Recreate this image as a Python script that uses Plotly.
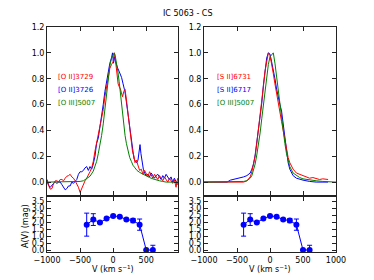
import plotly.graph_objects as go

# ---------------- data ----------------
# Left panel: [O II]3729 (red), [O II]3726 (blue), [O III]5007 (green)
oii3729_v = [-1000, -975, -950, -925, -900, -875, -850, -825, -800, -775, -750, -725, -700, -675, -650, -625, -600,
             -575, -550, -525, -500, -475, -450, -425, -400, -375, -350, -325, -300, -275, -250, -225, -200, -175,
             -150, -125, -100, -75, -50, -25, 0, 10, 20, 40, 60, 75, 90, 110, 125, 142, 160, 178, 195, 218, 238,
             254, 275, 294, 315, 330, 350, 375, 400, 425, 450, 475, 500, 525, 550, 575, 600, 625, 650, 675, 700,
             725, 750, 775, 800, 825, 850, 875, 900, 925, 950, 975]
oii3729_f = [0.0, -0.03, -0.055, -0.05, -0.01, 0.01, 0.01, 0.0, 0.02, 0.02, 0.01, 0.03, 0.045, 0.05, 0.06, 0.04, 0.03,
             0.01, -0.01, -0.04, -0.08, -0.05, -0.01, 0.01, 0.03, 0.05, 0.08, 0.11, 0.16, 0.24, 0.30, 0.36, 0.42, 0.50,
             0.56, 0.66, 0.74, 0.82, 0.88, 0.91, 0.93, 0.97, 1.0, 0.92, 0.82, 0.76, 0.74, 0.72, 0.69, 0.66, 0.70, 0.72,
             0.66, 0.55, 0.47, 0.39, 0.30, 0.23, 0.20, 0.15, 0.17, 0.12, 0.09, 0.10, 0.06, 0.09, 0.07, 0.04, 0.08, 0.05,
             0.03, 0.06, 0.04, 0.02, 0.05, 0.03, 0.01, 0.04, 0.02, 0.0, 0.03, 0.01, -0.01, 0.02, -0.04, 0.03]

oii3726_v = [-1000, -985, -970, -950, -925, -900, -875, -850, -825, -800, -775, -750, -725, -700, -675, -650, -625,
             -600, -575, -550, -525, -500, -475, -450, -425, -400, -375, -350, -325, -300, -275, -250, -225, -200,
             -175, -150, -125, -100, -75, -50, -25, -10, 5, 20, 35, 50, 70, 87, 105, 127, 150, 178, 200, 218, 238,
             254, 275, 294, 315, 335, 355, 375, 395, 406, 420, 440, 456, 475, 500, 525, 550, 575, 600, 625, 650, 675,
             700, 725, 750, 775, 800, 825, 850, 875, 900, 925, 950, 975]
oii3726_f = [0.02, 0.0, -0.03, -0.04, -0.02, -0.01, 0.0, -0.01, 0.0, 0.0, -0.02, -0.04, -0.06, -0.05, -0.03, -0.03, 0.0,
             -0.01, 0.01, 0.02, 0.06, 0.08, 0.08, 0.09, 0.11, 0.12, 0.09, 0.12, 0.10, 0.14, 0.20, 0.30, 0.34, 0.42,
             0.52, 0.60, 0.70, 0.78, 0.85, 0.92, 0.96, 1.0, 0.92, 0.97, 0.93, 0.90, 0.88, 0.86, 0.84, 0.81, 0.76, 0.70,
             0.62, 0.55, 0.47, 0.39, 0.30, 0.23, 0.18, 0.16, 0.15, 0.17, 0.25, 0.29, 0.22, 0.13, 0.10, 0.07, 0.05,
             0.06, 0.04, 0.07, 0.05, 0.03, 0.05, 0.06, 0.04, 0.02, 0.05, 0.03, 0.06, 0.04, 0.02, 0.04, 0.0, 0.03,
             0.01, -0.02]

oiii_left_v = [-1000, -550, -500, -450, -400, -350, -300, -275, -250, -225, -200, -175, -150, -125, -100, -75, -50,
               -25, 0, 15, 30, 50, 70, 90, 110, 125, 140, 160, 180, 200, 225, 250, 275, 300, 330, 360, 400, 456, 500,
               550, 600, 650, 700, 750, 800, 980]
oiii_left_f = [0.0, 0.0, 0.005, 0.01, 0.025, 0.045, 0.085, 0.12, 0.16, 0.22, 0.28, 0.36, 0.45, 0.56, 0.68, 0.81, 0.90,
               0.96, 0.99, 1.0, 0.98, 0.93, 0.86, 0.78, 0.68, 0.60, 0.53, 0.44, 0.36, 0.30, 0.24, 0.19, 0.16, 0.13,
               0.11, 0.09, 0.075, 0.06, 0.045, 0.035, 0.025, 0.015, 0.01, 0.005, 0.0, 0.0]

# Right panel: [S II]6731 (red), [S II]6717 (blue), [O III]5007 (green)
sii6731_v = [-1000, -400, -350, -300, -275, -250, -225, -200, -175, -150, -125, -100, -75, -50, -25, 0, 25, 50, 75,
             100, 125, 150, 175, 200, 225, 250, 275, 300, 325, 350, 400, 450, 500, 550, 600, 650, 700, 750, 800, 850,
             880]
sii6731_f = [0.0, 0.0, 0.01, 0.04, 0.08, 0.13, 0.20, 0.30, 0.40, 0.50, 0.60, 0.74, 0.86, 0.95, 1.0, 0.98, 0.92, 0.84,
             0.76, 0.68, 0.61, 0.55, 0.47, 0.40, 0.33, 0.25, 0.19, 0.15, 0.12, 0.10, 0.07, 0.06, 0.05, 0.04, 0.03,
             0.035, 0.03, 0.02, 0.025, 0.02, 0.02]

sii6717_v = [-1000, -650, -600, -550, -500, -450, -400, -350, -300, -275, -250, -225, -200, -175, -150, -125, -100,
             -75, -50, -25, 0, 25, 50, 75, 100, 125, 150, 175, 200, 225, 250, 275, 300, 325, 350, 400, 450, 500, 600,
             700, 880]
sii6717_f = [0.0, 0.0, 0.015, 0.02, 0.03, 0.035, 0.04, 0.05, 0.07, 0.10, 0.14, 0.21, 0.30, 0.40, 0.50, 0.61, 0.75,
             0.87, 0.96, 1.0, 0.99, 0.93, 0.87, 0.80, 0.72, 0.65, 0.60, 0.55, 0.45, 0.32, 0.22, 0.15, 0.10, 0.07,
             0.05, 0.03, 0.02, 0.015, 0.005, 0.0, 0.0]

oiii_right_v = [-1000, -450, -400, -350, -300, -275, -250, -225, -200, -175, -150, -125, -100, -75, -50, -25, 0, 25,
                50, 75, 100, 125, 150, 175, 200, 225, 250, 275, 300, 350, 400, 450, 500, 600, 700, 800, 900, 1000]
oiii_right_f = [0.0, 0.0, 0.005, 0.01, 0.03, 0.05, 0.09, 0.14, 0.21, 0.29, 0.38, 0.49, 0.60, 0.72, 0.82, 0.91, 0.97,
                0.99, 1.0, 0.92, 0.81, 0.70, 0.60, 0.50, 0.40, 0.30, 0.22, 0.16, 0.12, 0.07, 0.05, 0.035, 0.025,
                0.015, 0.01, 0.005, 0.0, 0.0]

# Extinction A(V)
av_v = [-400, -300, -200, -100, 0, 100, 200, 300, 400, 500, 600]
av_val = [1.83, 2.19, 1.98, 2.26, 2.45, 2.40, 2.19, 2.12, 1.83, 0.02, 0.02]
av_err = [0.82, 0.42, 0.05, 0.07, 0.05, 0.05, 0.08, 0.15, 0.40, 0.03, 0.34]

left_labels = ["[O II]3729", "[O II]3726", "[O III]5007"]
right_labels = ["[S II]6731", "[S II]6717", "[O III]5007"]
label_y = [0.81, 0.715, 0.615]

title = "IC 5063 - CS"
xlab = "V (km s<sup>−1</sup>)"
ylab = "A(V) (mag)"

RED, BLUE, GREEN = "#ff0000", "#0000ff", "#008000"
FONT = "DejaVu Sans"

# ---------------- figure ----------------
fig = go.Figure()

def line(x, y, c, xa, ya):
    fig.add_trace(go.Scatter(x=x, y=y, mode="lines", line=dict(color=c, width=1),
                             xaxis=xa, yaxis=ya, showlegend=False, hoverinfo="skip"))

line(oii3726_v, oii3726_f, BLUE, "x", "y")
line(oii3729_v, oii3729_f, RED, "x", "y")
line(oiii_left_v, oiii_left_f, GREEN, "x", "y")
line(sii6717_v, sii6717_f, BLUE, "x3", "y3")
line(sii6731_v, sii6731_f, RED, "x3", "y3")
line(oiii_right_v, oiii_right_f, GREEN, "x3", "y3")

for xa, ya in (("x2", "y2"), ("x4", "y4")):
    fig.add_trace(go.Scatter(x=av_v, y=av_val, mode="lines+markers",
                             line=dict(color=BLUE, width=1),
                             marker=dict(color=BLUE, size=6),
                             error_y=dict(type="data", array=av_err, color=BLUE, thickness=1, width=2.5),
                             xaxis=xa, yaxis=ya, showlegend=False, hoverinfo="skip", cliponaxis=False))

for txt, c, yy in zip(left_labels, [RED, BLUE, GREEN], label_y):
    fig.add_annotation(x=-860, y=yy, xref="x", yref="y", text=txt, showarrow=False,
                       xanchor="left", yanchor="middle", font=dict(color=c, size=7, family=FONT))
for txt, c, yy in zip(right_labels, [RED, BLUE, GREEN], label_y):
    fig.add_annotation(x=-835, y=yy, xref="x3", yref="y3", text=txt, showarrow=False,
                       xanchor="left", yanchor="middle", font=dict(color=c, size=7, family=FONT))

# page body adds an 8px offset; lay out in figure pixels = window pixels - 8
OFF = 8
W, H = 374 - OFF, 280 - OFF
def px(v):
    return v - OFF

L0, L1, R0, R1 = px(47), px(178), px(204), px(336)
T0, T1, B0, B1 = px(27), px(195), px(197), px(252)
ML, MR, MT, MB = L0, W - R1, T0, H - B1
PW, PH = W - ML - MR, H - MT - MB

def pxx(x):
    return (x - ML) / PW

def pxy(y):
    return (H - MB - y) / PH

xl = [0, pxx(L1)]
xr = [pxx(R0), 1]
ytop = [pxy(T1), 1]
ybot = [0, pxy(B0)]

tfont = dict(size=8, family=FONT, color="#000")
ax_common = dict(showline=True, linecolor="#222", linewidth=1, mirror="ticks", ticks="inside",
                 ticklen=4, tickcolor="#222", showgrid=False, zeroline=False, automargin=False,
                 tickfont=tfont)

xticks = [-1000, -500, 0, 500, 1000]
fig.update_layout(
    width=W, height=H, margin=dict(l=ML, r=MR, t=MT, b=MB, autoexpand=False),
    paper_bgcolor="white", plot_bgcolor="white",
    xaxis=dict(domain=xl, range=[-1000, 980], anchor="y", tickvals=xticks, showticklabels=False, **ax_common),
    yaxis=dict(domain=ytop, range=[-0.1, 1.2], anchor="x", tickvals=[0, 0.2, 0.4, 0.6, 0.8, 1.0, 1.2],
               tickformat=".1f", **ax_common),
    xaxis2=dict(domain=xl, range=[-1000, 980], anchor="y2", tickvals=xticks, **ax_common),
    yaxis2=dict(domain=ybot, range=[-0.12, 3.8], anchor="x2", tickvals=[0, 0.5, 1, 1.5, 2, 2.5, 3, 3.5],
                tickformat=".1f", **ax_common),
    xaxis3=dict(domain=xr, range=[-1000, 1000], anchor="y3", tickvals=xticks, showticklabels=False, **ax_common),
    yaxis3=dict(domain=ytop, range=[-0.1, 1.2], anchor="x3", tickvals=[0, 0.2, 0.4, 0.6, 0.8, 1.0, 1.2],
                tickformat=".1f", **ax_common),
    xaxis4=dict(domain=xr, range=[-1000, 1000], anchor="y4", tickvals=xticks, **ax_common),
    yaxis4=dict(domain=ybot, range=[-0.12, 3.8], anchor="x4", tickvals=[0, 0.5, 1, 1.5, 2, 2.5, 3, 3.5],
                tickformat=".1f", **ax_common),
)

# title and axis titles as positioned text
fig.add_annotation(x=pxx(px(187)), y=pxy(0), xref="paper", yref="paper", text=title, showarrow=False,
                   xanchor="center", yanchor="top", borderpad=0, font=tfont)
fig.add_annotation(x=0, y=pxy(px(269)), xref="x2", yref="paper", text=xlab, showarrow=False,
                   xanchor="center", yanchor="middle", font=tfont)
fig.add_annotation(x=0, y=pxy(px(269)), xref="x4", yref="paper", text=xlab, showarrow=False,
                   xanchor="center", yanchor="middle", font=tfont)
fig.add_annotation(x=pxx(px(25)), y=pxy(px(226)), xref="paper", yref="paper", text=ylab, showarrow=False,
                   textangle=-90, xanchor="center", yanchor="middle", font=tfont)

fig.write_html("out.html")
